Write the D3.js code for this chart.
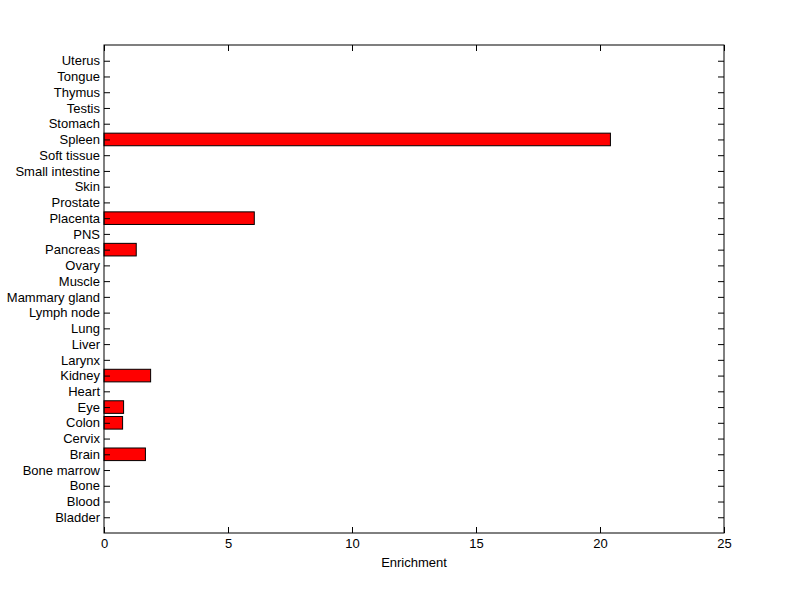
<!DOCTYPE html>
<html>
<head>
<meta charset="utf-8">
<script src="https://cdn.jsdelivr.net/npm/d3@7"></script>
<style>
  body { margin: 0; background: #fff; }
  text { font-family: "Liberation Sans", Arial, sans-serif; font-size: 13px; fill: #000; }
</style>
</head>
<body>
<script>
const tissues = ["Bladder", "Blood", "Bone", "Bone marrow", "Brain", "Cervix", "Colon", "Eye",
  "Heart", "Kidney", "Larynx", "Liver", "Lung", "Lymph node", "Mammary gland", "Muscle",
  "Ovary", "Pancreas", "PNS", "Placenta", "Prostate", "Skin", "Small intestine",
  "Soft tissue", "Spleen", "Stomach", "Testis", "Thymus", "Tongue", "Uterus"];
const enrichment = [0, 0, 0, 0, 1.67, 0, 0.75, 0.79,
  0, 1.88, 0, 0, 0, 0, 0, 0,
  0, 1.30, 0, 6.06, 0, 0, 0,
  0, 20.42, 0, 0, 0, 0, 0];
const xTicks = [0, 5, 10, 15, 20, 25];

const width = 800, height = 599;
const plot = { left: 104, right: 724, top: 45, bottom: 533 };
const tickLen = 6;

const svg = d3.select("body").append("svg")
  .attr("width", width).attr("height", height);

const x = d3.scaleLinear().domain([0, 25]).range([plot.left, plot.right]);
const y = d3.scaleLinear().domain([0, tissues.length + 1]).range([plot.bottom, plot.top]);
const barH = (y(0) - y(1)) * 0.8;

// bars
svg.selectAll(".bar")
  .data(enrichment.map((v, i) => ({ v, i })).filter(d => d.v > 0))
  .enter()
  .append("rect")
  .attr("class", "bar")
  .attr("x", x(0))
  .attr("y", d => y(d.i + 1) - barH / 2)
  .attr("width", d => x(d.v) - x(0))
  .attr("height", barH)
  .attr("fill", "#ff0000")
  .attr("stroke", "#000")
  .attr("stroke-width", 1);

// axes
const yPos = d3.range(1, tissues.length + 1);
const yLeft = d3.axisLeft(y).tickValues(yPos)
  .tickFormat(d => tissues[d - 1]).tickSizeInner(-tickLen).tickSizeOuter(0).tickPadding(4);
const yRight = d3.axisRight(y).tickValues(yPos)
  .tickFormat("").tickSizeInner(-tickLen).tickSizeOuter(0);
const xBottom = d3.axisBottom(x).tickValues(xTicks)
  .tickSizeInner(-tickLen).tickSizeOuter(0).tickPadding(6);
const xTop = d3.axisTop(x).tickValues(xTicks)
  .tickFormat("").tickSizeInner(-tickLen).tickSizeOuter(0);

function style(g) {
  g.select(".domain").remove();
  g.selectAll("line").attr("stroke", "#000");
  g.selectAll("text").attr("font-size", 13).attr("font-family", "Liberation Sans, Arial, sans-serif");
}

svg.append("g").attr("transform", `translate(${plot.left},0)`).call(yLeft).call(style);
svg.append("g").attr("transform", `translate(${plot.right},0)`).call(yRight).call(style);
svg.append("g").attr("transform", `translate(0,${plot.bottom})`).call(xBottom).call(style);
svg.append("g").attr("transform", `translate(0,${plot.top})`).call(xTop).call(style);

// frame
svg.append("rect")
  .attr("x", plot.left).attr("y", plot.top)
  .attr("width", plot.right - plot.left).attr("height", plot.bottom - plot.top)
  .attr("fill", "none").attr("stroke", "#000").attr("stroke-width", 1);

svg.append("text")
  .attr("x", (plot.left + plot.right) / 2).attr("y", 567)
  .attr("text-anchor", "middle")
  .text("Enrichment");
</script>
</body>
</html>
